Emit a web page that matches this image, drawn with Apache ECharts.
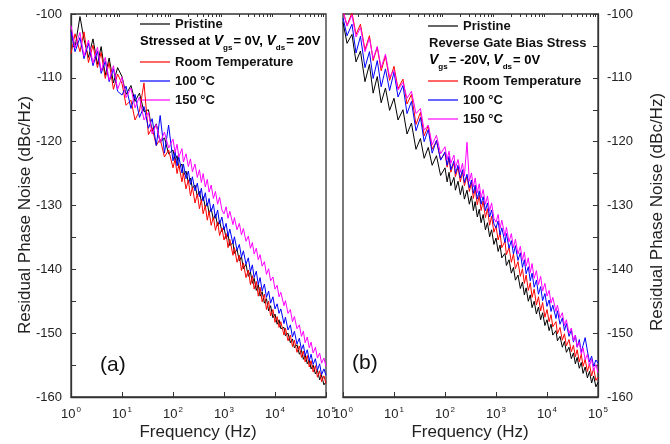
<!DOCTYPE html>
<html>
<head>
<meta charset="utf-8">
<script src="https://cdn.jsdelivr.net/npm/echarts@6/dist/echarts.min.js"></script>
<style>
  html, body { margin: 0; padding: 0; background: #fff; }
  #chart { width: 670px; height: 444px; }
</style>
</head>
<body>
<div id="chart"></div>
<script>
// Offset frequencies (Hz), shared by every trace
const freq = [
  1, 1.2, 1.5, 1.8, 2.2, 2.7, 3.3, 3.9, 4.7, 5.6, 6.8, 8.2,
  10, 12, 15, 18, 22, 27, 33, 39, 47, 56, 68, 82,
  100, 110, 120, 130, 150, 160, 180, 200, 220, 240, 270, 300, 330, 360, 390, 430, 470, 510, 560, 620, 680, 750, 820, 910,
  1000, 1100, 1200, 1300, 1500, 1600, 1800, 2000, 2200, 2400, 2700, 3000, 3300, 3600, 3900, 4300, 4700, 5100, 5600, 6200, 6800, 7500, 8200, 9100,
  10000, 11000, 12000, 13000, 15000, 16000, 18000, 20000, 22000, 24000, 27000, 30000, 33000, 36000, 39000, 43000, 47000, 51000, 56000, 62000, 68000, 75000, 82000, 91000,
  100000
];

// Panel (a): stressed at Vgs = 0 V, Vds = 20 V   (dBc/Hz)
const aPristine = [
  -102.5, -105.2, -100.4, -104.0, -106.8, -103.9, -107.9, -105.1, -109.6, -106.9, -110.8, -108.4,
  -109.8, -112.6, -111.2, -113.7, -112.4, -115.3, -115.0, -118.4, -117.2, -120.1, -119.4, -121.9,
  -121.3, -122.9, -122.2, -124.1, -123.5, -125.3, -124.6, -126.4, -125.7, -127.3, -126.8, -128.5, -127.8, -129.4, -128.6, -130.3, -129.6, -131.2, -130.5, -132.2, -131.4, -133.2, -132.4, -134.1,
  -133.4, -135.2, -134.5, -136.3, -135.8, -137.5, -136.9, -138.7, -138.0, -139.9, -139.2, -141.1, -140.4, -142.2, -141.4, -143.3, -142.4, -144.2, -143.5, -145.3, -144.6, -146.5, -145.7, -147.6,
  -147.0, -148.6, -147.9, -149.3, -149.1, -150.4, -150.0, -151.5, -150.9, -152.3, -151.8, -153.3, -152.7, -154.1, -153.4, -154.8, -154.2, -155.6, -155.0, -156.4, -155.8, -157.3, -156.6, -158.1,
  -157.6
];
const aRoomTemp = [
  -106.2, -103.1, -105.9, -102.8, -107.6, -104.9, -108.4, -106.0, -110.1, -107.6, -111.8, -109.4,
  -110.9, -114.3, -113.5, -116.6, -115.2, -110.8, -118.9, -117.8, -120.6, -119.6, -122.4, -121.3,
  -124.1, -122.7, -125.0, -123.6, -126.3, -124.9, -127.4, -126.0, -128.5, -127.1, -129.6, -128.2, -130.5, -129.1, -131.3, -130.0, -132.3, -130.9, -133.1, -131.8, -133.9, -132.6, -134.7, -133.5,
  -135.4, -134.4, -136.6, -135.3, -137.8, -136.6, -138.9, -137.8, -140.2, -139.0, -141.3, -140.1, -142.4, -141.0, -143.1, -141.9, -144.2, -142.8, -145.1, -143.9, -146.3, -145.0, -147.3, -146.3,
  -148.3, -147.4, -149.1, -148.2, -150.3, -149.2, -151.2, -150.3, -152.1, -151.1, -153.0, -152.0, -153.8, -152.8, -154.5, -153.5, -155.3, -154.3, -156.1, -155.1, -156.9, -155.9, -157.6, -156.7,
  -157.9
];
const a100C = [
  -102.8, -105.9, -103.7, -107.0, -104.6, -108.1, -105.8, -109.3, -107.4, -110.6, -108.6, -112.1,
  -112.7, -111.3, -114.8, -112.6, -116.2, -114.5, -117.9, -116.4, -120.6, -115.9, -121.8, -117.4,
  -123.0, -121.6, -123.8, -122.4, -124.9, -123.5, -125.8, -124.6, -126.7, -125.5, -127.7, -126.5, -128.6, -127.3, -129.3, -128.0, -130.1, -128.9, -131.0, -129.8, -132.0, -130.7, -132.9, -131.8,
  -133.8, -132.8, -134.8, -133.7, -136.0, -134.9, -137.0, -136.1, -138.1, -137.1, -139.2, -138.2, -140.4, -139.3, -141.3, -140.3, -142.4, -141.3, -143.4, -142.3, -144.4, -143.4, -145.3, -144.3,
  -146.2, -145.4, -146.9, -146.2, -148.5, -147.5, -149.5, -148.7, -150.6, -149.7, -151.7, -150.8, -152.6, -151.8, -153.5, -152.6, -154.3, -153.3, -154.9, -154.0, -155.8, -154.8, -156.5, -155.6,
  -156.6
];
const a150C = [
  -101.8, -105.3, -102.9, -106.6, -104.1, -107.7, -105.2, -108.9, -106.8, -110.4, -108.1, -111.8,
  -109.9, -113.1, -111.6, -114.7, -113.0, -116.6, -115.4, -118.8, -117.3, -120.1, -118.5, -121.0,
  -119.6, -121.7, -120.4, -122.4, -121.1, -123.2, -121.9, -123.9, -122.7, -124.7, -123.5, -125.6, -124.4, -126.4, -125.0, -127.1, -125.9, -127.9, -126.8, -128.9, -127.8, -129.8, -128.7, -130.7,
  -131.3, -130.2, -132.0, -130.9, -133.0, -131.9, -133.8, -132.8, -134.6, -133.6, -135.6, -134.8, -136.7, -135.8, -137.6, -136.7, -138.5, -137.7, -139.5, -138.8, -140.8, -139.9, -141.8, -141.2,
  -143.1, -142.5, -144.3, -143.6, -145.7, -144.9, -146.9, -146.3, -148.2, -147.4, -149.3, -148.7, -150.5, -149.7, -151.5, -150.6, -152.3, -151.4, -153.1, -152.2, -153.9, -153.1, -154.7, -153.9,
  -155.2
];

// Panel (b): reverse gate bias stress, Vgs = -20 V, Vds = 0 V   (dBc/Hz)
const bPristine = [
  -101.3, -104.6, -103.2, -107.5, -105.8, -110.6, -107.9, -112.4, -109.8, -113.9, -111.6, -115.1,
  -113.2, -116.6, -115.0, -118.8, -117.1, -121.2, -119.5, -122.6, -120.9, -123.7, -122.2, -125.3,
  -124.1, -126.3, -124.8, -126.9, -125.6, -127.6, -126.2, -128.3, -126.9, -129.0, -127.6, -129.8, -128.5, -130.8, -129.4, -131.8, -130.6, -132.7, -131.4, -133.8, -132.7, -134.9, -133.8, -136.1,
  -135.1, -137.2, -136.2, -138.2, -137.5, -139.4, -138.5, -140.6, -139.7, -141.7, -140.9, -143.0, -142.0, -144.0, -142.9, -145.0, -144.0, -146.0, -145.0, -147.0, -145.9, -147.9, -146.8, -148.8,
  -147.9, -149.6, -148.6, -150.3, -149.6, -151.2, -150.5, -152.2, -151.3, -153.0, -152.2, -154.0, -153.1, -154.8, -153.8, -155.5, -154.6, -156.3, -155.3, -157.0, -156.0, -157.8, -156.7, -158.4,
  -157.7
];
const bRoomTemp = [
  -99.6, -101.8, -99.8, -103.2, -101.6, -105.6, -103.4, -107.3, -105.2, -108.9, -106.6, -110.4,
  -108.2, -111.7, -110.2, -114.1, -112.6, -117.3, -115.4, -119.1, -117.5, -121.2, -119.9, -122.8,
  -121.8, -124.0, -122.6, -124.8, -123.3, -125.5, -124.0, -126.3, -124.7, -126.9, -125.4, -127.8, -126.4, -128.9, -127.3, -129.9, -128.4, -130.8, -129.3, -131.9, -130.5, -133.1, -131.7, -134.2,
  -133.2, -135.4, -134.3, -136.6, -135.6, -137.7, -136.6, -138.9, -137.6, -139.9, -138.8, -141.1, -139.9, -142.2, -140.9, -143.3, -142.1, -144.4, -143.1, -145.6, -144.3, -146.5, -145.2, -147.5,
  -146.3, -148.2, -147.1, -149.0, -148.2, -150.1, -149.1, -151.1, -150.1, -152.0, -151.0, -152.9, -151.9, -153.7, -152.6, -154.5, -153.3, -155.2, -154.1, -156.0, -154.8, -156.7, -155.5, -157.4,
  -156.9
];
const b100C = [
  -100.6, -103.4, -101.6, -106.1, -103.5, -108.4, -105.9, -110.1, -107.3, -111.4, -108.6, -112.0,
  -109.1, -113.0, -111.2, -115.6, -113.7, -118.3, -116.2, -120.0, -118.1, -121.8, -119.8, -122.9,
  -121.6, -123.7, -122.3, -124.4, -123.0, -125.0, -123.7, -125.7, -124.4, -126.4, -125.1, -127.2, -126.0, -128.1, -126.8, -129.0, -127.7, -129.8, -128.6, -130.8, -129.6, -131.8, -130.7, -132.9,
  -133.5, -132.4, -134.6, -133.5, -135.8, -134.4, -136.7, -135.5, -137.6, -136.3, -138.6, -137.4, -139.7, -138.5, -140.7, -139.6, -141.8, -140.6, -142.8, -141.7, -143.9, -142.7, -144.9, -143.8,
  -145.8, -144.8, -146.6, -145.6, -147.7, -146.5, -148.6, -147.6, -149.6, -148.5, -150.5, -149.5, -151.4, -150.3, -152.2, -151.0, -153.0, -151.9, -150.7, -152.8, -154.5, -153.6, -155.2, -154.2,
  -154.7
];
const b150C = [
  -99.4, -101.9, -100.2, -103.6, -102.1, -105.9, -103.8, -107.0, -105.1, -108.4, -106.3, -109.9,
  -108.8, -111.9, -110.7, -113.2, -112.1, -115.6, -114.8, -118.2, -117.4, -120.5, -119.0, -121.9,
  -120.8, -122.8, -121.5, -123.4, -122.1, -124.1, -122.8, -124.8, -123.4, -125.4, -120.1, -126.2, -124.9, -127.1, -125.7, -128.0, -126.6, -128.8, -127.5, -129.8, -128.5, -130.9, -129.6, -132.0,
  -132.6, -131.4, -133.6, -132.3, -134.8, -133.4, -135.7, -134.4, -136.6, -135.3, -137.6, -136.4, -138.6, -137.3, -139.5, -138.2, -140.5, -139.1, -141.4, -140.2, -142.4, -141.1, -143.4, -142.2,
  -144.2, -143.3, -145.3, -144.4, -146.6, -145.6, -147.6, -146.8, -148.8, -147.9, -150.0, -149.2, -151.2, -150.3, -152.2, -151.4, -153.3, -152.3, -154.2, -153.3, -155.1, -154.1, -155.9, -154.9,
  -156.2
];

// Axis ticks
const decadeTicks = [1, 10, 100, 1000, 10000, 100000];
const minorTicks = [
  2, 3, 4, 5, 6, 7, 8, 9,
  20, 30, 40, 50, 60, 70, 80, 90,
  200, 300, 400, 500, 600, 700, 800, 900,
  2000, 3000, 4000, 5000, 6000, 7000, 8000, 9000,
  20000, 30000, 40000, 50000, 60000, 70000, 80000, 90000
];
const yMin = -160, yMax = -100, yStep = 10;

const seriesNames = ['Pristine', 'Room Temperature', '100 °C', '150 °C'];
const seriesColors = ['#000000', '#ff0000', '#0000ff', '#ff00ff'];
const panelA = [aPristine, aRoomTemp, a100C, a150C];
const panelB = [bPristine, bRoomTemp, b100C, b150C];

const FONT = '"Liberation Sans", Arial, Helvetica, sans-serif';
const INK = '#222';
const FRAME = '#333';

const tickRich = {
  b: { fontFamily: FONT, fontSize: 13, color: INK, verticalAlign: 'bottom' },
  s: { fontFamily: FONT, fontSize: 8, color: INK, verticalAlign: 'bottom', padding: [0, 0, 7, 1] }
};

function pairs(values) {
  return freq.map((f, i) => [f, values[i]]);
}

function freqAxes(gridIndex) {
  return [
    {
      type: 'log', logBase: 10, gridIndex, min: 1, max: 100000,
      axisLine: { show: true, onZero: false, lineStyle: { color: FRAME, width: 1.3 } },
      axisTick: { show: true, inside: true, length: 5, customValues: decadeTicks, lineStyle: { color: FRAME, width: 1 } },
      axisLabel: {
        show: true, margin: 9, customValues: decadeTicks,
        formatter: v => '{b|10}{s|' + Math.round(Math.log10(v)) + '}',
        rich: tickRich
      },
      splitLine: { show: false }
    },
    {
      type: 'log', logBase: 10, gridIndex, min: 1, max: 100000,
      axisLine: { show: false },
      axisTick: { show: true, inside: true, length: 3, customValues: minorTicks, lineStyle: { color: FRAME, width: 1 } },
      axisLabel: { show: false },
      splitLine: { show: false }
    }
  ];
}

function noiseAxis(gridIndex, position) {
  return {
    type: 'value', gridIndex, position, min: yMin, max: yMax, interval: yStep,
    axisLine: { show: true, lineStyle: { color: FRAME, width: 1.3 } },
    axisTick: { show: true, inside: true, length: 5, lineStyle: { color: FRAME, width: 1 } },
    minorTick: { show: true, splitNumber: 2, length: 5, lineStyle: { color: FRAME, width: 1 } },
    axisLabel: { fontFamily: FONT, fontSize: 13, color: INK, margin: 9 },
    splitLine: { show: false }
  };
}

function traces(panel, xAxisIndex, yAxisIndex) {
  return panel.map((values, k) => ({
    name: seriesNames[k],
    type: 'line',
    xAxisIndex, yAxisIndex,
    data: pairs(values),
    showSymbol: false,
    symbol: 'none',
    clip: true,
    lineStyle: { color: seriesColors[k], width: 1 },
    itemStyle: { color: seriesColors[k] },
    silent: true
  }));
}

// Legend block: sample line plus bold caption rows
function legendRow(x, y, color, text) {
  const items = [];
  if (color) {
    items.push({ type: 'line', shape: { x1: x, y1: y, x2: x + 30, y2: y }, style: { stroke: color, lineWidth: 1.2 } });
  }
  items.push({
    type: 'text', x: x + 35, y,
    style: { text, font: 'bold 13px ' + FONT, fill: '#111', align: 'left', verticalAlign: 'middle' }
  });
  return items;
}

const legendRich = {
  b: { fontFamily: FONT, fontWeight: 'bold', fontSize: 13, color: '#111', verticalAlign: 'bottom', padding: [0, 0, 4, 0] },
  v: { fontFamily: FONT, fontWeight: 'bold', fontStyle: 'italic', fontSize: 14, color: '#111', verticalAlign: 'bottom', padding: [0, 0, 4, 0] },
  g: { fontFamily: FONT, fontWeight: 'bold', fontSize: 8, color: '#111', verticalAlign: 'bottom', padding: [0, 1, 0, 0] }
};

function captionText(x, y, text) {
  return {
    type: 'text', x, y,
    style: { text, rich: legendRich, align: 'left', verticalAlign: 'middle' }
  };
}

const graphics = [].concat(
  legendRow(140, 24, seriesColors[0], seriesNames[0]),
  [captionText(140, 43, '{b|Stressed at }{v|V}{g|gs}{b|= 0V, }{v|V}{g|ds}{b|= 20V}')],
  legendRow(140, 62, seriesColors[1], seriesNames[1]),
  legendRow(140, 81, seriesColors[2], seriesNames[2]),
  legendRow(140, 100, seriesColors[3], seriesNames[3]),

  legendRow(428, 26, seriesColors[0], seriesNames[0]),
  [{ type: 'text', x: 429, y: 43, style: { text: 'Reverse Gate Bias Stress', font: 'bold 13px ' + FONT, fill: '#111', align: 'left', verticalAlign: 'middle' } }],
  [captionText(429, 62, '{v|V}{g|gs}{b|= -20V, }{v|V}{g|ds}{b|= 0V}')],
  legendRow(428, 81, seriesColors[1], seriesNames[1]),
  legendRow(428, 100, seriesColors[2], seriesNames[2]),
  legendRow(428, 119, seriesColors[3], seriesNames[3]),

  [
    { type: 'text', x: 100, y: 365, style: { text: '(a)', font: '21px ' + FONT, fill: '#111', align: 'left', verticalAlign: 'middle' } },
    { type: 'text', x: 352, y: 363, style: { text: '(b)', font: '21px ' + FONT, fill: '#111', align: 'left', verticalAlign: 'middle' } },
    { type: 'text', x: 198, y: 432, style: { text: 'Frequency (Hz)', font: '17px ' + FONT, fill: INK, align: 'center', verticalAlign: 'middle' } },
    { type: 'text', x: 470, y: 432, style: { text: 'Frequency (Hz)', font: '17px ' + FONT, fill: INK, align: 'center', verticalAlign: 'middle' } },
    { type: 'text', x: 25, y: 215, rotation: Math.PI / 2, style: { text: 'Residual Phase Noise (dBc/Hz)', font: '17px ' + FONT, fill: INK, align: 'center', verticalAlign: 'middle' } },
    { type: 'text', x: 657, y: 212, rotation: Math.PI / 2, style: { text: 'Residual Phase Noise (dBc/Hz)', font: '17px ' + FONT, fill: INK, align: 'center', verticalAlign: 'middle' } }
  ]
);

const option = {
  animation: false,
  backgroundColor: '#ffffff',
  grid: [
    { left: 71, top: 14, width: 255, height: 383, show: true, borderColor: FRAME, borderWidth: 1.3, backgroundColor: 'transparent', containLabel: false },
    { left: 343, top: 14, width: 255, height: 383, show: true, borderColor: FRAME, borderWidth: 1.3, backgroundColor: 'transparent', containLabel: false }
  ],
  xAxis: [].concat(freqAxes(0), freqAxes(1)),
  yAxis: [noiseAxis(0, 'left'), noiseAxis(1, 'right')],
  series: [].concat(traces(panelA, 0, 0), traces(panelB, 2, 1)),
  graphic: graphics
};

const chart = echarts.init(document.getElementById('chart'), null, { renderer: 'canvas' });
chart.setOption(option);
</script>
</body>
</html>
